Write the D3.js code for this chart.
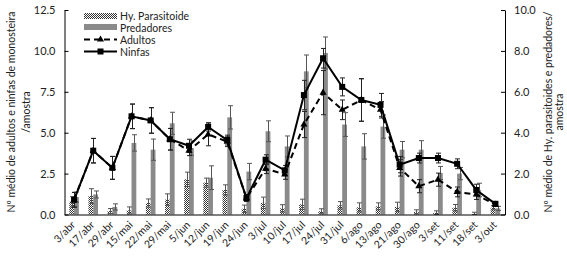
<!DOCTYPE html>
<html>
<head>
<meta charset="utf-8">
<script src="https://cdn.jsdelivr.net/npm/d3@7"></script>
<style>
  body{margin:0;background:#fff;}
  text{font-family:Lato,"Open Sans",sans-serif;fill:#222;}
</style>
</head>
<body>
<div id="chart"></div>
<script>
const dates=["3/abr","17/abr","29/abr","15/mai","22/mai","29/mai","5/jun","12/jun","19/jun","24/jun","3/jul","10/jul","17/jul","24/jul","31/jul","6/ago","13/ago","21/ago","30/ago","3/set","11/set","18/set","3/out"];

// left axis series
const ninfas=[0.9,3.9,2.85,6.0,5.75,4.6,4.2,5.35,4.55,1.0,3.35,2.7,7.3,9.55,7.8,7.0,6.7,3.05,3.45,3.45,3.1,1.5,0.65];
const ninfasErr=[0.45,0.75,0.7,0.75,0.78,0.66,0.4,0.25,0.3,0.2,0.3,0.3,0.9,0.6,0.55,1.3,0.7,0.5,0.3,0.3,0.3,0.35,0.15];
const adultos=[0.9,3.9,2.85,6.0,5.75,4.6,3.9,4.9,4.45,1.0,2.8,2.45,5.5,7.45,6.4,7.0,6.4,2.85,1.73,2.13,1.38,1.22,0.6];
const adultosErr=[0.45,0.75,0.7,0.75,0.78,0.66,0.3,0.7,0.3,0.2,0.3,0.3,0.8,1.35,0.6,1.3,0.5,0.5,0.4,0.4,0.3,0.3,0.1];

// right axis series
const parasitoide=[0.62,0.9,0.17,0.2,0.56,0.73,1.72,1.56,1.2,0.28,0.57,0.3,0.5,0.16,0.45,0.35,0.4,0.37,0.13,0.08,0.33,0.03,0.33];
const parasitoideErr=[0.25,0.36,0.12,0.17,0.2,0.28,0.35,0.22,0.25,0.18,0.28,0.18,0.25,0.12,0.18,0.22,0.17,0.23,0.1,0.1,0.16,0.08,0.1];
const predadores=[0.85,0.98,0.37,3.5,3.17,4.46,3.25,1.8,4.75,2.1,4.07,3.33,7.0,7.9,4.4,3.33,4.3,3.17,3.17,2.03,2.0,1.2,0.3];
const predadoresErr=[0.25,0.17,0.15,0.4,0.52,0.54,0.35,0.58,0.57,0.4,0.51,0.51,0.8,0.78,0.58,0.62,0.57,0.4,0.44,0.32,0.3,0.33,0.1];

const leftTicks=[0,2.5,5,7.5,10,12.5];
const rightTicks=[0,2,4,6,8,10];

const opt={width:567,height:264,left:64.5,right:505,top:10,bottom:214.5}

const svg=d3.select("#chart")
  .append("svg")
  .attr("width",opt.width)
  .attr("height",opt.height)

const defs=svg.append("defs")
const pat=defs.append("pattern")
  .attr("id","checker")
  .attr("width",2)
  .attr("height",2)
  .attr("patternUnits","userSpaceOnUse")
pat.append("rect").attr("width",2).attr("height",2).attr("fill","#fff")
pat.append("rect").attr("width",1).attr("height",1).attr("fill","#333")
pat.append("rect").attr("x",1).attr("y",1).attr("width",1).attr("height",1).attr("fill","#333")

const xScale=d3.scaleBand()
  .domain(dates)
  .range([opt.left,opt.right])

const yLeft=d3.scaleLinear()
  .domain([0,12.5])
  .range([opt.bottom,opt.top])

const yRight=d3.scaleLinear()
  .domain([0,10])
  .range([opt.bottom,opt.top])

const bw=xScale.bandwidth();
const barW=bw*0.25;
const cx=(d)=>xScale(d)+bw/2;

// bars
const barSeries=[
  {vals:parasitoide,err:parasitoideErr,off:-barW,fill:"url(#checker)"},
  {vals:predadores,err:predadoresErr,off:0,fill:"#8a8a8a"}
];

barSeries.forEach((s)=>{
  svg.append("g").selectAll("rect")
    .data(dates)
    .enter()
    .append("rect")
    .attr("x",(d)=>cx(d)+s.off)
    .attr("y",(d,i)=>yRight(s.vals[i]))
    .attr("width",barW)
    .attr("height",(d,i)=>yRight(0)-yRight(s.vals[i]))
    .attr("fill",s.fill)
});

function errorBars(vals,errs,scale,xoff,color){
  const g=svg.append("g")
    .attr("stroke",color)
    .attr("stroke-width",1)
  dates.forEach((d,i)=>{
    const x=Math.round(cx(d)+xoff)+0.5;
    const y1=scale(Math.max(0,vals[i]-errs[i]));
    const y2=scale(vals[i]+errs[i]);
    g.append("line").attr("x1",x).attr("x2",x).attr("y1",y1).attr("y2",y2)
    g.append("line").attr("x1",x-2.5).attr("x2",x+2.5).attr("y1",y1).attr("y2",y1)
    g.append("line").attr("x1",x-2.5).attr("x2",x+2.5).attr("y1",y2).attr("y2",y2)
  });
}

errorBars(parasitoide,parasitoideErr,yRight,-barW/2,"#555")
errorBars(predadores,predadoresErr,yRight,barW/2,"#555")

// lines
const lineL=(vals)=>d3.line()
  .x((d)=>cx(d))
  .y((d,i)=>yLeft(vals[i]))(dates)

errorBars(adultos,adultosErr,yLeft,0,"#222")
errorBars(ninfas,ninfasErr,yLeft,0,"#222")

svg.append("path")
  .attr("d",lineL(adultos))
  .attr("fill","none")
  .attr("stroke","#000")
  .attr("stroke-width",2)
  .attr("stroke-dasharray","6,4")

svg.append("g").selectAll("path")
  .data(dates)
  .enter()
  .append("path")
  .attr("d",d3.symbol().type(d3.symbolTriangle).size(22))
  .attr("transform",(d,i)=>"translate("+cx(d)+","+yLeft(adultos[i])+")")
  .attr("fill","#000")

svg.append("path")
  .attr("d",lineL(ninfas))
  .attr("fill","none")
  .attr("stroke","#000")
  .attr("stroke-width",2)

svg.append("g").selectAll("rect")
  .data(dates)
  .enter()
  .append("rect")
  .attr("x",(d)=>cx(d)-3)
  .attr("y",(d,i)=>yLeft(ninfas[i])-3)
  .attr("width",6)
  .attr("height",6)
  .attr("fill","#000")

// axes
const leftAxis=svg.append("g")
  .attr("transform","translate("+opt.left+",0)")
  .call(d3.axisLeft(yLeft).tickValues(leftTicks).tickSizeInner(-4).tickSizeOuter(0).tickPadding(9).tickFormat(d3.format(".1f")))
  .attr("class","axis")

const rightAxis=svg.append("g")
  .attr("transform","translate("+opt.right+",0)")
  .call(d3.axisRight(yRight).tickValues(rightTicks).tickSizeInner(-4).tickSizeOuter(0).tickPadding(9).tickFormat(d3.format(".1f")))
  .attr("class","axis")

const bottomAxis=svg.append("g")
  .attr("transform","translate(0,"+opt.bottom+")")
  .call(d3.axisBottom(xScale).tickSize(0).tickPadding(0))
  .attr("class","axis")

svg.selectAll(".axis path, .axis line").attr("stroke","#000")
svg.selectAll(".axis text").attr("font-size","11px").attr("font-family","Lato, sans-serif").attr("fill","#222")

bottomAxis.selectAll("text")
  .attr("font-size","10.5px")
  .attr("text-anchor","end")
  .attr("dy","0")
  .attr("transform","translate(2,11) rotate(-45)")

// axis titles
svg.append("text")
  .attr("transform","translate(15,112) rotate(-90)")
  .attr("text-anchor","middle")
  .attr("font-size","10.5px")
  .text("Nº médio de adultos e ninfas de monosteira")
svg.append("text")
  .attr("transform","translate(30,112) rotate(-90)")
  .attr("text-anchor","middle")
  .attr("font-size","10.5px")
  .text("/amostra")

svg.append("text")
  .attr("transform","translate(552,112) rotate(-90)")
  .attr("text-anchor","middle")
  .attr("font-size","10.5px")
  .text("Nº médio de Hy. parasitoides e predadores/")
svg.append("text")
  .attr("transform","translate(563,112) rotate(-90)")
  .attr("text-anchor","middle")
  .attr("font-size","10.5px")
  .text("amostra")

// legend
const lg=svg.append("g")
lg.append("rect").attr("x",84).attr("y",13).attr("width",33).attr("height",6).attr("fill","url(#checker)")
lg.append("rect").attr("x",84).attr("y",24).attr("width",33).attr("height",6).attr("fill","#8a8a8a")
lg.append("line").attr("x1",84).attr("x2",117).attr("y1",39.5).attr("y2",39.5)
  .attr("stroke","#000").attr("stroke-width",2).attr("stroke-dasharray","6,4")
lg.append("path").attr("d",d3.symbol().type(d3.symbolTriangle).size(22))
  .attr("transform","translate(100.5,39.5)")
lg.append("line").attr("x1",84).attr("x2",117).attr("y1",51.5).attr("y2",51.5)
  .attr("stroke","#000").attr("stroke-width",2)
lg.append("rect").attr("x",97.5).attr("y",48.5).attr("width",6).attr("height",6)

const legendNames=["Hy. Parasitoide","Predadores","Adultos","Ninfas"];
lg.selectAll("text.lab")
  .data(legendNames)
  .enter()
  .append("text")
  .attr("class","lab")
  .attr("x",120)
  .attr("y",(d,i)=>16+i*12)
  .attr("dy","0.35em")
  .attr("font-size","10.5px")
  .text((d)=>d)
</script>
</body>
</html>
